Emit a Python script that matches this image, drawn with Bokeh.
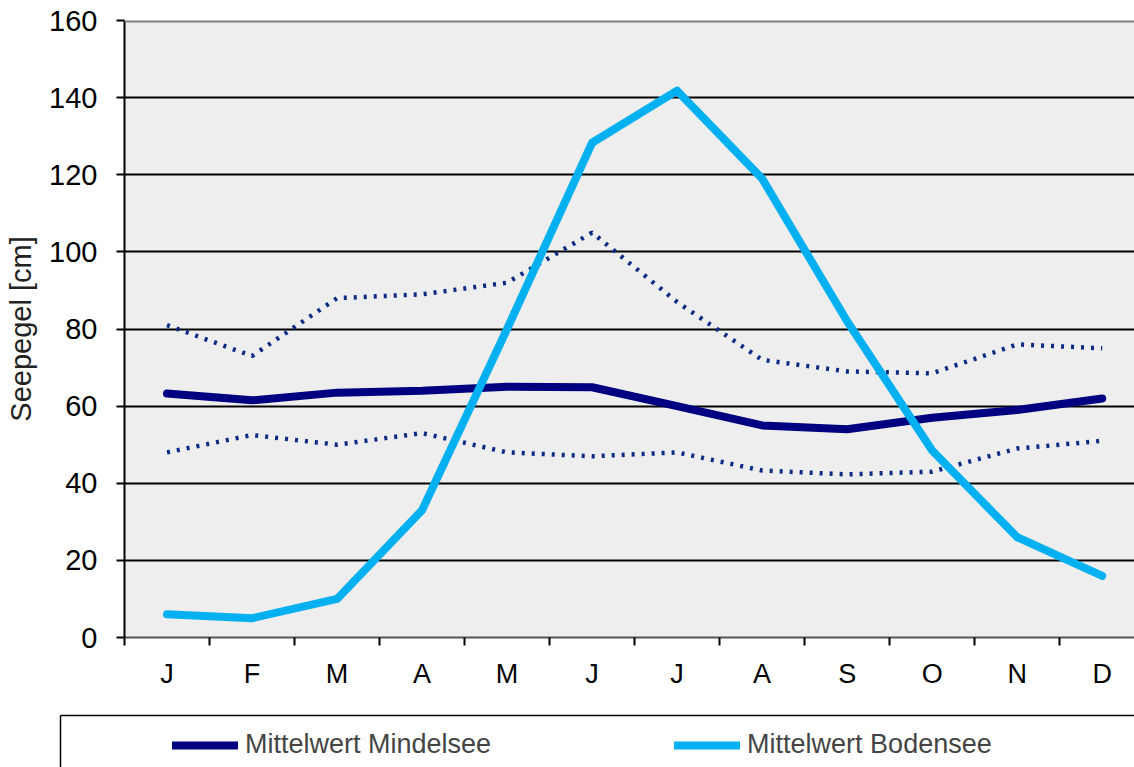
from bokeh.plotting import figure
from bokeh.layouts import column, row
from bokeh.models import Range1d, FixedTicker, Span, Legend, LegendItem
from bokeh.embed import file_html
from bokeh.resources import INLINE

months = ["J", "F", "M", "A", "M", "J", "J", "A", "S", "O", "N", "D"]
mindelsee_mean = [63.3, 61.5, 63.5, 64.0, 65.0, 64.9, 60.0, 55.0, 54.0, 57.0, 59.0, 62.0]
mindelsee_upper = [81.0, 73.0, 88.0, 89.0, 92.0, 105.0, 87.0, 72.0, 69.0, 68.5, 76.0, 75.0]
mindelsee_lower = [48.0, 52.5, 50.0, 53.0, 48.0, 47.0, 48.0, 43.3, 42.3, 43.0, 49.0, 51.0]
bodensee_mean = [6.0, 5.0, 10.0, 33.0, 80.0, 128.3, 141.8, 119.0, 82.0, 48.5, 26.0, 16.0]
y_ticks = [0, 20, 40, 60, 80, 100, 120, 140, 160]
series_labels = ["Mittelwert Mindelsee", "Mittelwert Bodensee"]

x = list(range(len(months)))
FONT = "Liberation Sans"
NAVY = "#000080"
SKY = "#00b0f0"
DOT = "#0b2b85"

p = figure(width=1134, height=712, output_backend="svg", toolbar_location=None,
           x_range=Range1d(-0.5, 11.38), y_range=Range1d(0, 160),
           min_border_left=124, min_border_right=0, min_border_top=20,
           min_border_bottom=75)
p.background_fill_color = "#eeeeee"
p.border_fill_color = "white"
p.outline_line_color = None

# axes
p.yaxis.ticker = FixedTicker(ticks=y_ticks)
p.yaxis.axis_label = "Seepegel [cm]"
p.yaxis.axis_label_text_font = FONT
p.yaxis.axis_label_text_font_size = "29px"
p.yaxis.axis_label_text_font_style = "normal"
p.yaxis.axis_label_text_color = "#222222"
p.yaxis.axis_label_standoff = 9
p.yaxis.major_label_text_font = FONT
p.yaxis.major_label_text_font_size = "29px"
p.yaxis.major_label_text_color = "black"
p.yaxis.major_label_standoff = 19
p.yaxis.axis_line_color = "black"
p.yaxis.axis_line_width = 2
p.yaxis.major_tick_line_color = "black"
p.yaxis.major_tick_line_width = 2
p.yaxis.major_tick_out = 8
p.yaxis.major_tick_in = 0
p.yaxis.minor_tick_line_color = None

p.xaxis.ticker = FixedTicker(ticks=x, minor_ticks=[i - 0.5 for i in range(13)])
p.xaxis.major_label_overrides = {i: m for i, m in enumerate(months)}
p.xaxis.major_label_text_font = FONT
p.xaxis.major_label_text_font_size = "27px"
p.xaxis.major_label_text_color = "black"
p.xaxis.major_label_standoff = 13
p.xaxis.major_tick_line_color = None
p.xaxis.major_tick_out = 0
p.xaxis.major_tick_in = 0
p.xaxis.minor_tick_line_color = "black"
p.xaxis.minor_tick_line_width = 2
p.xaxis.minor_tick_out = 8
p.xaxis.minor_tick_in = 0
p.xaxis.axis_line_color = "#555555"
p.xaxis.axis_line_width = 2

p.xgrid.grid_line_color = None
p.ygrid.grid_line_color = "black"
p.ygrid.grid_line_width = 2

p.add_layout(Span(location=160, dimension="width", line_color="#808080", line_width=4))

# series
p.line(x, mindelsee_upper, line_color=DOT, line_width=4.5, line_dash="3 7")
p.line(x, mindelsee_lower, line_color=DOT, line_width=4.5, line_dash="3 7")
p.line(x, mindelsee_mean, line_color=NAVY, line_width=8, line_cap="round", line_join="round")
p.line(x, bodensee_mean, line_color=SKY, line_width=8, line_cap="round", line_join="round")

# legend strip below the chart
q = figure(width=1134, height=55, output_backend="svg", toolbar_location=None,
           x_range=Range1d(-0.5, 11.5), y_range=Range1d(1000, 1001),
           x_axis_location="above", min_border_left=60, min_border_right=0,
           min_border_top=3, min_border_bottom=0)
q.background_fill_color = "white"
q.border_fill_color = "white"
q.outline_line_color = None
q.grid.grid_line_color = None
for ax in (q.xaxis[0], q.yaxis[0]):
    ax.ticker = FixedTicker(ticks=[])
    ax.axis_line_color = "black"
    ax.axis_line_width = 1.5
    ax.major_tick_line_color = None
    ax.minor_tick_line_color = None
    ax.major_label_standoff = 0
    ax.major_tick_out = 0
    ax.major_tick_in = 0

lm = q.line(x, mindelsee_mean, line_color=NAVY, line_width=8, line_cap="round")
lb = q.line(x, bodensee_mean, line_color=SKY, line_width=8, line_cap="round")
leg = Legend(items=[LegendItem(label=series_labels[0], renderers=[lm]),
                    LegendItem(label=series_labels[1], renderers=[lb])],
             location=(112, 7), orientation="horizontal",
             border_line_color=None, background_fill_alpha=0,
             padding=0, margin=0, spacing=183, glyph_width=66, glyph_height=30,
             label_standoff=7, label_text_font=FONT, label_text_font_size="27px",
             label_height=30)
q.add_layout(leg, "center")

layout = column(p, row(q), spacing=0)
open("out.html", "w").write(file_html(layout, INLINE))
